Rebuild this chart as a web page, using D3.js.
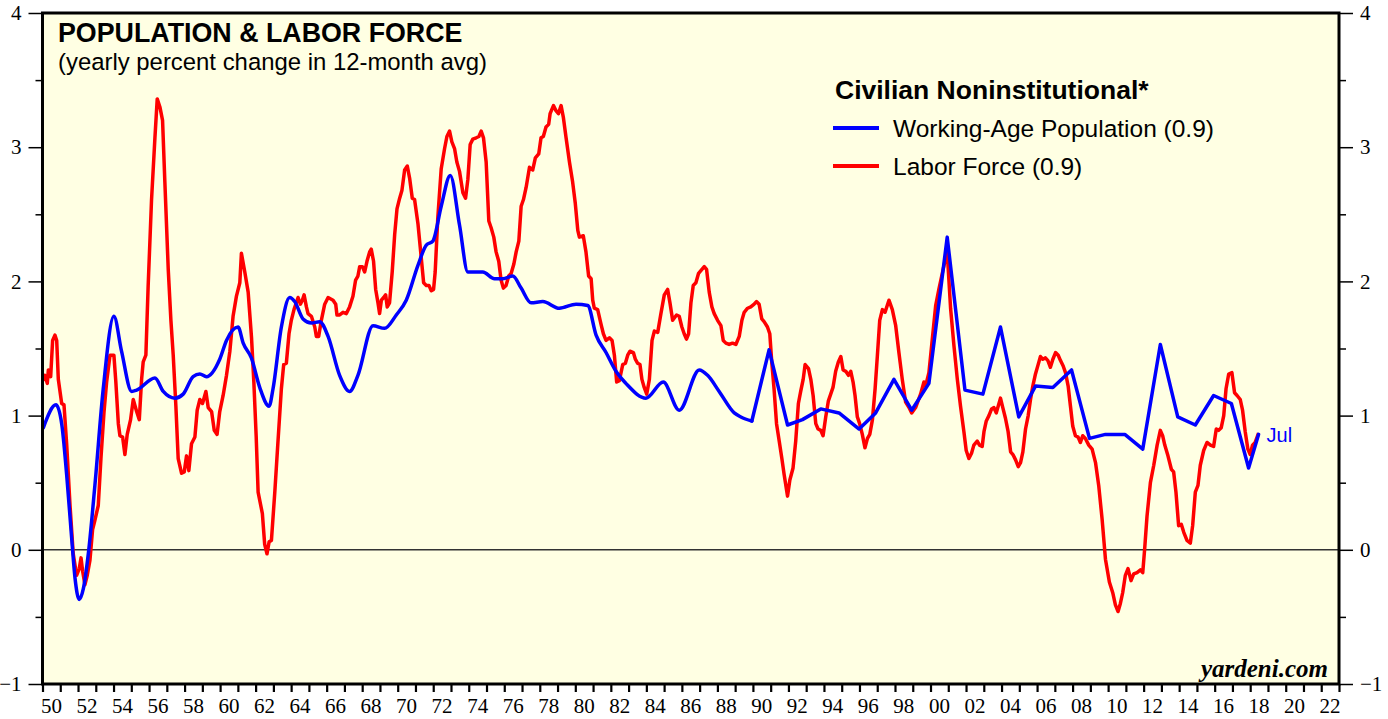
<!DOCTYPE html>
<html>
<head>
<meta charset="utf-8">
<style>
  html, body { margin: 0; padding: 0; background: #fff; }
  svg { display: block; }
</style>
</head>
<body>
<script src="https://d3js.org/d3.v7.min.js"></script>
<script>
// Working-age population, yearly % change (decimal year, value)
var popYears = [1950.05, 1950.76, 1951.08, 1951.36, 1951.64, 1951.83, 1952.07, 1952.30, 1952.58, 1952.95,
  1953.42, 1954.02, 1954.45, 1955.02, 1955.30, 1956.33, 1956.80, 1957.45, 1957.92, 1958.48,
  1958.86, 1959.23, 1959.98, 1960.36, 1961.01, 1961.30, 1961.76, 1962.23, 1962.76, 1962.98,
  1963.45, 1963.92, 1964.20, 1964.67, 1965.14, 1965.61, 1966.08, 1966.73, 1967.29, 1967.76,
  1968.61, 1969.26, 1969.92, 1970.48, 1971.14, 1971.61, 1971.98, 1972.45, 1972.96, 1973.48,
  1973.95, 1974.79, 1975.45, 1975.92, 1976.48, 1976.95, 1977.51, 1978.17, 1979.10, 1980.04,
  1980.70, 1981.17, 1981.73, 1982.29, 1982.85, 1983.98, 1984.95, 1985.85, 1986.98, 1987.45,
  1988.10, 1988.95, 1989.32, 1989.94, 1990.91, 1991.95, 1992.79, 1993.82, 1994.85, 1995.98,
  1996.91, 1997.94, 1998.94, 1999.91, 2000.94, 2001.94, 2002.95, 2003.94, 2004.97, 2005.91,
  2006.89, 2007.94, 2008.95, 2009.85, 2010.94, 2011.95, 2012.94, 2013.92, 2014.91, 2015.94,
  2016.94, 2017.91, 2018.47];
var popValues = [0.91, 1.08, 0.94, 0.56, 0.09, -0.21, -0.37, -0.29, -0.03, 0.48,
  1.20, 1.74, 1.48, 1.18, 1.19, 1.28, 1.18, 1.13, 1.16, 1.29,
  1.31, 1.29, 1.42, 1.56, 1.66, 1.54, 1.43, 1.21, 1.07, 1.20,
  1.66, 1.88, 1.85, 1.72, 1.69, 1.70, 1.59, 1.30, 1.18, 1.30,
  1.67, 1.65, 1.75, 1.86, 2.12, 2.27, 2.30, 2.56, 2.79, 2.42,
  2.07, 2.07, 2.02, 2.02, 2.04, 1.95, 1.84, 1.85, 1.80, 1.83,
  1.82, 1.60, 1.47, 1.33, 1.24, 1.13, 1.25, 1.04, 1.34, 1.30,
  1.18, 1.02, 0.99, 0.96, 1.49, 0.93, 0.97, 1.05, 1.02, 0.90,
  1.02, 1.27, 1.04, 1.24, 2.33, 1.19, 1.16, 1.66, 0.99, 1.22,
  1.21, 1.34, 0.83, 0.86, 0.86, 0.75, 1.53, 0.99, 0.93, 1.15,
  1.09, 0.61, 0.86];

// Labor force, yearly % change (decimal year, value)
var laborYears = [1950.01, 1950.14, 1950.27, 1950.33, 1950.46, 1950.57, 1950.70, 1950.80, 1950.89, 1951.08,
  1951.21, 1951.36, 1951.55, 1951.73, 1951.92, 1952.07, 1952.17, 1952.26, 1952.39, 1952.52,
  1952.67, 1952.82, 1952.95, 1953.14, 1953.29, 1953.46, 1953.61, 1953.80, 1954.02, 1954.13,
  1954.27, 1954.36, 1954.51, 1954.64, 1954.77, 1954.96, 1955.11, 1955.30, 1955.45, 1955.58,
  1955.67, 1955.82, 1955.95, 1956.14, 1956.33, 1956.46, 1956.61, 1956.76, 1956.89, 1957.08,
  1957.23, 1957.36, 1957.51, 1957.64, 1957.83, 1957.98, 1958.11, 1958.24, 1958.39, 1958.58,
  1958.71, 1958.86, 1959.01, 1959.20, 1959.33, 1959.52, 1959.67, 1959.83, 1959.98, 1960.17,
  1960.36, 1960.55, 1960.73, 1960.92, 1961.11, 1961.20, 1961.39, 1961.58, 1961.77, 1961.90,
  1962.03, 1962.14, 1962.38, 1962.51, 1962.64, 1962.76, 1962.89, 1963.08, 1963.26, 1963.45,
  1963.58, 1963.73, 1963.88, 1964.01, 1964.16, 1964.39, 1964.52, 1964.63, 1964.73, 1964.86,
  1964.95, 1965.14, 1965.33, 1965.42, 1965.55, 1965.70, 1965.89, 1966.08, 1966.36, 1966.51,
  1966.58, 1966.73, 1966.92, 1967.11, 1967.29, 1967.48, 1967.63, 1967.76, 1967.86, 1968.01,
  1968.14, 1968.27, 1968.42, 1968.51, 1968.64, 1968.76, 1968.89, 1968.98, 1969.08, 1969.21,
  1969.32, 1969.41, 1969.54, 1969.69, 1969.83, 1969.96, 1970.11, 1970.24, 1970.39, 1970.54,
  1970.67, 1970.82, 1970.95, 1971.14, 1971.33, 1971.46, 1971.61, 1971.76, 1971.89, 1972.02,
  1972.11, 1972.26, 1972.45, 1972.64, 1972.77, 1972.92, 1973.05, 1973.20, 1973.33, 1973.48,
  1973.67, 1973.82, 1973.95, 1974.08, 1974.23, 1974.42, 1974.57, 1974.70, 1974.83, 1974.98,
  1975.13, 1975.26, 1975.41, 1975.54, 1975.69, 1975.82, 1975.95, 1976.10, 1976.25, 1976.39,
  1976.54, 1976.67, 1976.82, 1976.95, 1977.08, 1977.23, 1977.42, 1977.60, 1977.75, 1977.94,
  1978.07, 1978.20, 1978.35, 1978.50, 1978.58, 1978.77, 1978.92, 1979.05, 1979.20, 1979.33,
  1979.48, 1979.67, 1979.85, 1980.00, 1980.14, 1980.23, 1980.45, 1980.60, 1980.75, 1980.89,
  1980.98, 1981.07, 1981.26, 1981.45, 1981.58, 1981.73, 1981.92, 1982.07, 1982.20, 1982.33,
  1982.48, 1982.67, 1982.82, 1982.95, 1983.08, 1983.27, 1983.38, 1983.51, 1983.64, 1983.75,
  1983.88, 1984.02, 1984.17, 1984.32, 1984.45, 1984.64, 1984.82, 1985.01, 1985.20, 1985.33,
  1985.48, 1985.70, 1985.85, 1986.00, 1986.13, 1986.26, 1986.38, 1986.51, 1986.64, 1986.79,
  1986.94, 1987.07, 1987.26, 1987.39, 1987.54, 1987.69, 1987.82, 1988.01, 1988.20, 1988.33,
  1988.48, 1988.66, 1988.85, 1989.04, 1989.23, 1989.38, 1989.51, 1989.70, 1989.88, 1990.07,
  1990.20, 1990.35, 1990.50, 1990.63, 1990.82, 1990.95, 1991.06, 1991.19, 1991.33, 1991.48,
  1991.63, 1991.76, 1991.95, 1992.08, 1992.26, 1992.41, 1992.56, 1992.69, 1992.83, 1992.94,
  1993.13, 1993.26, 1993.39, 1993.54, 1993.67, 1993.82, 1993.95, 1994.10, 1994.25, 1994.38,
  1994.51, 1994.66, 1994.81, 1994.95, 1995.08, 1995.23, 1995.38, 1995.51, 1995.64, 1995.75,
  1995.88, 1996.01, 1996.16, 1996.31, 1996.45, 1996.58, 1996.73, 1996.88, 1997.01, 1997.14,
  1997.29, 1997.44, 1997.66, 1997.85, 1998.04, 1998.22, 1998.41, 1998.60, 1998.79, 1998.94,
  1999.16, 1999.44, 1999.63, 1999.72, 1999.91, 2000.10, 2000.29, 2000.47, 2000.76, 2000.94,
  2001.13, 2001.32, 2001.51, 2001.69, 2001.88, 2002.01, 2002.16, 2002.31, 2002.44, 2002.63,
  2002.76, 2002.91, 2003.01, 2003.14, 2003.29, 2003.44, 2003.57, 2003.70, 2003.81, 2003.94,
  2004.07, 2004.22, 2004.37, 2004.51, 2004.64, 2004.79, 2004.94, 2005.07, 2005.20, 2005.35,
  2005.50, 2005.63, 2005.76, 2005.91, 2006.06, 2006.19, 2006.32, 2006.47, 2006.61, 2006.75,
  2006.89, 2007.04, 2007.19, 2007.32, 2007.47, 2007.60, 2007.75, 2007.88, 2008.01, 2008.16,
  2008.31, 2008.44, 2008.57, 2008.72, 2008.91, 2009.10, 2009.29, 2009.47, 2009.66, 2009.85,
  2010.07, 2010.26, 2010.41, 2010.56, 2010.69, 2010.82, 2010.97, 2011.12, 2011.29, 2011.44,
  2011.63, 2011.82, 2011.95, 2012.06, 2012.19, 2012.38, 2012.57, 2012.76, 2012.94, 2013.07,
  2013.19, 2013.37, 2013.56, 2013.69, 2013.82, 2013.97, 2014.12, 2014.26, 2014.44, 2014.63,
  2014.76, 2014.91, 2015.06, 2015.19, 2015.38, 2015.57, 2015.76, 2015.94, 2016.09, 2016.22,
  2016.37, 2016.51, 2016.64, 2016.79, 2016.97, 2017.12, 2017.26, 2017.44, 2017.57, 2017.72,
  2017.87, 2018.00, 2018.13, 2018.28, 2018.47];
var laborValues = [1.26, 1.30, 1.24, 1.34, 1.29, 1.56, 1.60, 1.56, 1.27, 1.09,
  1.08, 0.79, 0.33, -0.03, -0.19, -0.14, -0.06, -0.16, -0.26, -0.19,
  -0.08, 0.15, 0.22, 0.33, 0.68, 1.02, 1.25, 1.45, 1.45, 1.25,
  0.94, 0.85, 0.84, 0.71, 0.86, 0.97, 1.12, 1.03, 0.97, 1.27,
  1.40, 1.45, 1.97, 2.61, 3.07, 3.36, 3.30, 3.20, 2.74, 2.09,
  1.71, 1.45, 1.07, 0.68, 0.57, 0.58, 0.70, 0.59, 0.79, 0.84,
  1.04, 1.12, 1.09, 1.18, 1.06, 1.03, 0.89, 0.86, 1.03, 1.15,
  1.30, 1.48, 1.74, 1.89, 1.99, 2.21, 2.07, 1.92, 1.58, 1.25,
  0.85, 0.43, 0.27, 0.04, -0.03, 0.06, 0.07, 0.43, 0.81, 1.20,
  1.38, 1.39, 1.61, 1.71, 1.79, 1.88, 1.83, 1.86, 1.90, 1.81,
  1.76, 1.74, 1.66, 1.59, 1.59, 1.71, 1.83, 1.88, 1.86, 1.83,
  1.75, 1.75, 1.77, 1.76, 1.81, 1.89, 2.01, 2.04, 2.11, 2.11,
  2.07, 2.15, 2.22, 2.24, 2.15, 1.94, 1.84, 1.76, 1.86, 1.88,
  1.90, 1.81, 1.84, 2.07, 2.35, 2.54, 2.62, 2.68, 2.83, 2.86,
  2.77, 2.62, 2.61, 2.43, 2.17, 1.99, 1.97, 1.97, 1.93, 1.94,
  2.07, 2.48, 2.84, 2.99, 3.08, 3.12, 3.04, 2.99, 2.89, 2.82,
  2.66, 2.62, 2.76, 3.02, 3.06, 3.07, 3.08, 3.12, 3.07, 2.89,
  2.45, 2.40, 2.33, 2.22, 2.15, 2.01, 1.95, 1.97, 2.04, 2.06,
  2.13, 2.22, 2.30, 2.56, 2.61, 2.70, 2.85, 2.83, 2.92, 2.95,
  3.07, 3.08, 3.15, 3.17, 3.25, 3.31, 3.27, 3.25, 3.31, 3.22,
  3.07, 2.89, 2.74, 2.58, 2.38, 2.33, 2.34, 2.22, 2.04, 2.02,
  1.86, 1.80, 1.79, 1.68, 1.61, 1.56, 1.58, 1.56, 1.45, 1.25,
  1.26, 1.38, 1.39, 1.45, 1.48, 1.47, 1.42, 1.39, 1.38, 1.27,
  1.21, 1.16, 1.27, 1.56, 1.63, 1.62, 1.76, 1.90, 1.94, 1.84,
  1.71, 1.75, 1.74, 1.66, 1.61, 1.57, 1.61, 1.84, 1.97, 1.99,
  2.06, 2.08, 2.11, 2.09, 1.92, 1.81, 1.76, 1.71, 1.67, 1.56,
  1.54, 1.53, 1.54, 1.53, 1.59, 1.71, 1.77, 1.80, 1.81, 1.83,
  1.85, 1.83, 1.72, 1.70, 1.66, 1.61, 1.40, 1.20, 0.94, 0.81,
  0.68, 0.56, 0.40, 0.52, 0.61, 0.81, 1.09, 1.18, 1.27, 1.38,
  1.35, 1.27, 1.15, 0.94, 0.90, 0.89, 0.85, 0.99, 1.11, 1.16,
  1.21, 1.33, 1.40, 1.44, 1.34, 1.33, 1.30, 1.33, 1.25, 1.15,
  0.99, 0.94, 0.86, 0.76, 0.83, 0.86, 0.97, 1.20, 1.45, 1.71,
  1.79, 1.77, 1.86, 1.79, 1.67, 1.47, 1.27, 1.10, 1.06, 1.02,
  1.06, 1.16, 1.25, 1.22, 1.32, 1.57, 1.82, 1.94, 2.12, 2.22,
  1.80, 1.52, 1.27, 1.07, 0.88, 0.74, 0.68, 0.72, 0.78, 0.81,
  0.78, 0.77, 0.88, 0.96, 1.00, 1.05, 1.06, 1.02, 1.07, 1.13,
  1.06, 0.98, 0.88, 0.73, 0.71, 0.67, 0.62, 0.65, 0.73, 0.90,
  1.00, 1.12, 1.22, 1.31, 1.38, 1.44, 1.42, 1.43, 1.41, 1.36,
  1.42, 1.47, 1.45, 1.41, 1.37, 1.32, 1.22, 1.07, 0.92, 0.85,
  0.84, 0.80, 0.85, 0.83, 0.78, 0.75, 0.65, 0.48, 0.23, -0.07,
  -0.24, -0.32, -0.41, -0.46, -0.40, -0.32, -0.19, -0.14, -0.23, -0.18,
  -0.17, -0.15, -0.17, 0.01, 0.25, 0.50, 0.63, 0.78, 0.89, 0.85,
  0.78, 0.70, 0.60, 0.58, 0.43, 0.18, 0.19, 0.13, 0.07, 0.05,
  0.18, 0.43, 0.48, 0.63, 0.74, 0.80, 0.78, 0.77, 0.90, 0.89,
  0.91, 1.00, 1.20, 1.31, 1.32, 1.17, 1.15, 1.12, 1.04, 0.88,
  0.75, 0.71, 0.78, 0.80, 0.87];

var yMajor = [-1, 0, 1, 2, 3, 4];
var yMinor = [-0.5, 0.5, 1.5, 2.5, 3.5];
var xLabelYears = d3.range(1950, 2023, 2);

var W = 1388, H = 719;
var plotL = 42.5, plotR = 1339, plotT = 13, plotB = 684;

var x = d3.scaleLinear().domain([1950, 2023]).range([plotL, plotR]);
var y = d3.scaleLinear().domain([-1, 4]).range([plotB, plotT]);

var svg = d3.select("body").append("svg")
  .attr("width", W)
  .attr("height", H);

// plot background
svg.append("rect")
  .attr("x", plotL).attr("y", plotT)
  .attr("width", plotR - plotL).attr("height", plotB - plotT)
  .attr("fill", "#ffffe3");

// zero line
svg.append("line")
  .attr("x1", plotL).attr("x2", plotR)
  .attr("y1", y(0)).attr("y2", y(0))
  .attr("stroke", "#333").attr("stroke-width", 1.5);

// y axes, left and right
function yAxis(g, side) {
  var major = (side == "left" ? d3.axisLeft(y) : d3.axisRight(y))
    .tickValues(yMajor).tickSize(14).tickPadding(7)
    .tickFormat(d3.format("d"));
  var minor = (side == "left" ? d3.axisLeft(y) : d3.axisRight(y))
    .tickValues(yMinor).tickSize(7).tickFormat("");
  g.append("g").call(minor);
  g.append("g").call(major);
  g.selectAll(".domain").remove();
  g.selectAll("line").attr("stroke", "#000").attr("stroke-width", 1.5);
  g.selectAll("text")
    .attr("font-family", "'Liberation Serif', 'Times New Roman', serif")
    .attr("font-size", "21px")
    .attr("fill", "#000");
}
svg.append("g").attr("transform", "translate(" + plotL + ",0)").call(yAxis, "left");
svg.append("g").attr("transform", "translate(" + plotR + ",0)").call(yAxis, "right");

// x axis: tick every year, labels every other year centred in the year
var xAxis = d3.axisBottom(x)
  .tickValues(d3.range(1950, 2024, 1))
  .tickSize(8)
  .tickFormat("");
var gx = svg.append("g").attr("transform", "translate(0," + plotB + ")").call(xAxis);
gx.select(".domain").remove();
gx.selectAll("line").attr("stroke", "#000").attr("stroke-width", 2.2);

svg.append("g").selectAll("text")
  .data(xLabelYears)
  .enter()
  .append("text")
  .attr("x", function(d) { return x(d + 0.5); })
  .attr("y", 713)
  .attr("text-anchor", "middle")
  .attr("font-family", "'Liberation Serif', 'Times New Roman', serif")
  .attr("font-size", "21px")
  .text(function(d) { return d3.format("02d")(d % 100); });

// series
var popData = popYears.map(function(d, i) { return [d, popValues[i]]; });
var laborData = laborYears.map(function(d, i) { return [d, laborValues[i]]; });

var line = d3.line()
  .x(function(d) { return x(d[0]); })
  .y(function(d) { return y(d[1]); });

// population is smooth up to 1990, then annual benchmark kinks
var smoothLine = d3.line()
  .curve(d3.curveMonotoneX)
  .x(function(d) { return x(d[0]); })
  .y(function(d) { return y(d[1]); });

svg.append("path")
  .datum(laborData)
  .attr("d", line)
  .attr("fill", "none")
  .attr("stroke", "#ff0000")
  .attr("stroke-width", 3.5)
  .attr("stroke-linejoin", "round");

var popEarly = popData.filter(function(d) { return d[0] <= 1989.95; });
var popLate = popData.filter(function(d) { return d[0] >= 1989.9; });

svg.append("path")
  .datum(popEarly)
  .attr("d", smoothLine)
  .attr("fill", "none")
  .attr("stroke", "#0000ff")
  .attr("stroke-width", 3.5)
  .attr("stroke-linecap", "round")
  .attr("stroke-linejoin", "round");

svg.append("path")
  .datum(popLate)
  .attr("d", line)
  .attr("fill", "none")
  .attr("stroke", "#0000ff")
  .attr("stroke-width", 3.5)
  .attr("stroke-linecap", "round")
  .attr("stroke-linejoin", "round");

// frame
svg.append("rect")
  .attr("x", plotL).attr("y", plotT)
  .attr("width", plotR - plotL).attr("height", plotB - plotT)
  .attr("fill", "none")
  .attr("stroke", "#000").attr("stroke-width", 3);

// titles
var sans = "'Liberation Sans', Arial, Helvetica, sans-serif";
svg.append("text")
  .attr("x", 58).attr("y", 42)
  .attr("font-family", sans).attr("font-size", "26.8px").attr("font-weight", "bold")
  .text("POPULATION & LABOR FORCE");
svg.append("text")
  .attr("x", 58).attr("y", 70)
  .attr("font-family", sans).attr("font-size", "23.9px")
  .text("(yearly percent change in 12-month avg)");

// legend
svg.append("text")
  .attr("x", 835).attr("y", 99)
  .attr("font-family", sans).attr("font-size", "26.5px").attr("font-weight", "bold")
  .text("Civilian Noninstitutional*");

var legend = [
  { label: "Working-Age Population (0.9)", color: "#0000ff", y: 128 },
  { label: "Labor Force (0.9)", color: "#ff0000", y: 166 }
];
var lg = svg.append("g").selectAll("g").data(legend).enter().append("g");
lg.append("line")
  .attr("x1", 833).attr("x2", 879)
  .attr("y1", function(d) { return d.y; }).attr("y2", function(d) { return d.y; })
  .attr("stroke", function(d) { return d.color; })
  .attr("stroke-width", 4);
lg.append("text")
  .attr("x", 893).attr("y", function(d) { return d.y + 8.5; })
  .attr("font-family", sans).attr("font-size", "24.5px")
  .text(function(d) { return d.label; });

// end label
svg.append("text")
  .attr("x", x(2018.47) + 8).attr("y", y(popValues[popValues.length - 1]) + 8)
  .attr("font-family", sans).attr("font-size", "20px")
  .attr("fill", "#0000ff")
  .text("Jul");

// source
svg.append("text")
  .attr("x", 1328).attr("y", 677)
  .attr("text-anchor", "end")
  .attr("font-family", "'Liberation Serif', 'Times New Roman', serif")
  .attr("font-size", "25px").attr("font-weight", "bold").attr("font-style", "italic")
  .text("yardeni.com");
</script>
</body>
</html>
